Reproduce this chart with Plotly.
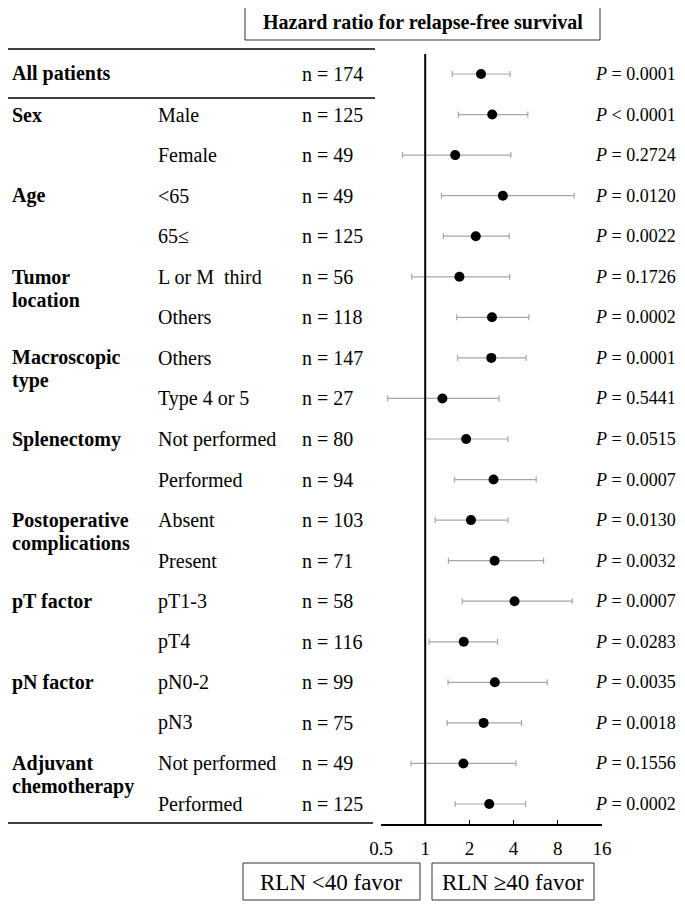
import plotly.graph_objects as go

# rows of the forest plot, top to bottom
group_names = ["All patients", "Sex", "Age", "Tumor\nlocation", "Macroscopic\ntype",
               "Splenectomy", "Postoperative\ncomplications", "pT factor", "pN factor",
               "Adjuvant\nchemotherapy"]
subgroups = [[""], ["Male", "Female"], ["<65", "65≤"], ["L or M  third", "Others"],
             ["Others", "Type 4 or 5"], ["Not performed", "Performed"],
             ["Absent", "Present"], ["pT1-3", "pT4"], ["pN0-2", "pN3"],
             ["Not performed", "Performed"]]
n_counts = [174, 125, 49, 49, 125, 56, 118, 147, 27, 80, 94, 103, 71, 58, 116, 99, 75, 49, 125]
hr = [2.40, 2.86, 1.60, 3.38, 2.21, 1.71, 2.85, 2.82, 1.31, 1.90, 2.92, 2.05, 2.97, 4.06,
      1.83, 2.98, 2.50, 1.82, 2.73]
ci_low = [1.53, 1.68, 0.70, 1.29, 1.33, 0.81, 1.64, 1.66, 0.555, 1.00, 1.58, 1.17, 1.44,
          1.79, 1.065, 1.43, 1.41, 0.80, 1.60]
ci_high = [3.79, 5.00, 3.83, 10.35, 3.73, 3.76, 5.08, 4.87, 3.18, 3.66, 5.70, 3.66, 6.40,
           10.03, 3.11, 6.78, 4.53, 4.15, 4.83]
p_sign = ["=", "<", "=", "=", "=", "=", "=", "=", "=", "=", "=", "=", "=", "=", "=", "=",
          "=", "=", "="]
p_vals = ["0.0001", "0.0001", "0.2724", "0.0120", "0.0022", "0.1726", "0.0002", "0.0001",
          "0.5441", "0.0515", "0.0007", "0.0130", "0.0032", "0.0007", "0.0283", "0.0035",
          "0.0018", "0.1556", "0.0002"]
tick_vals = [0.5, 1, 2, 4, 8, 16]
title_text = "Hazard ratio for relapse-free survival"
favor_left = "RLN <40 favor"
favor_right = "RLN ≥40 favor"

FONT = "Liberation Serif"
W, H = 685, 905
OFF = 8  # the page body margin moves the figure 8px right and down


def esc(s):
    return s.replace("&", "&amp;").replace("<", "&lt;").replace(">", "&gt;").replace("  ", "\u00a0\u00a0")


def px(x):
    return (x - OFF) / W


def py(y):
    return 1 - (y - OFF) / H


rows = list(range(len(hr)))

fig = go.Figure()
fig.add_trace(go.Scatter(
    x=hr, y=rows, mode="markers",
    marker=dict(color="black", size=10),
    error_x=dict(type="data", symmetric=False,
                 array=[h - m for h, m in zip(ci_high, hr)],
                 arrayminus=[m - l for m, l in zip(hr, ci_low)],
                 color="#a6a6a6", thickness=1.2, width=3),
    showlegend=False, hoverinfo="skip",
))

ann = []
r = 0
for g, subs in zip(group_names, subgroups):
    lines = g.split("\n")
    for k, line in enumerate(lines):
        ann.append(dict(x=px(10), y=r, xref="paper", yref="y", xanchor="left",
                        yanchor="middle", text="<b>" + esc(line) + "</b>", yshift=-23 * k,
                        showarrow=False, font=dict(family=FONT, size=20, color="black")))
    for s in subs:
        if s:
            ann.append(dict(x=px(156), y=r, xref="paper", yref="y", xanchor="left",
                            yanchor="middle", text=esc(s), showarrow=False,
                            font=dict(family=FONT, size=20, color="black")))
        ann.append(dict(x=px(300), y=r, xref="paper", yref="y", xanchor="left",
                        yanchor="middle", text="n = %d" % n_counts[r], showarrow=False,
                        font=dict(family=FONT, size=20, color="black")))
        ann.append(dict(x=px(593), y=r, xref="paper", yref="y", xanchor="left",
                        yanchor="middle",
                        text="<i>P</i> " + esc(p_sign[r]) + " " + p_vals[r],
                        showarrow=False, font=dict(family=FONT, size=18, color="black")))
        r += 1

ann.append(dict(x=px(423), y=py(22), xref="paper", yref="paper", xanchor="center",
                yanchor="middle", text="<b>" + title_text + "</b>",
                showarrow=False, font=dict(family=FONT, size=20, color="black")))
ann.append(dict(x=px(331), y=py(882), xref="paper", yref="paper", xanchor="center",
                yanchor="middle", text=esc(favor_left),
                showarrow=False, font=dict(family=FONT, size=23, color="black")))
ann.append(dict(x=px(513), y=py(882), xref="paper", yref="paper", xanchor="center",
                yanchor="middle", text=esc(favor_right),
                showarrow=False, font=dict(family=FONT, size=23, color="black")))

line_style = dict(color="black", width=1.3)
box_style = dict(color="#333333", width=1)
shapes = [
    dict(type="line", xref="paper", yref="paper", x0=px(3), x1=px(375), y0=py(49), y1=py(49), line=line_style),
    dict(type="line", xref="paper", yref="paper", x0=px(3), x1=px(375), y0=py(98), y1=py(98), line=line_style),
    dict(type="line", xref="paper", yref="paper", x0=px(3), x1=px(373), y0=py(823), y1=py(823), line=line_style),
    dict(type="line", xref="x", yref="paper", x0=1, x1=1, y0=py(54), y1=py(824),
         line=dict(color="black", width=2)),
    dict(type="rect", xref="paper", yref="paper", x0=px(245), x1=px(600), y0=py(4), y1=py(40), line=box_style),
    dict(type="rect", xref="paper", yref="paper", x0=px(243), x1=px(420), y0=py(863), y1=py(900), line=box_style),
    dict(type="rect", xref="paper", yref="paper", x0=px(432), x1=px(594), y0=py(863), y1=py(900), line=box_style),
]

n_rows = len(hr)
spacing = (804 - 74) / (n_rows - 1)
y_bottom = (n_rows - 1) + (824 - 804) / spacing
y_top = (52 - 74) / spacing

fig.update_layout(
    width=W, height=H,
    margin=dict(l=0, r=0, t=0, b=0, pad=0, autoexpand=False),
    paper_bgcolor="white", plot_bgcolor="white",
    xaxis=dict(type="log", domain=[px(381), px(602)],
               range=[-0.30103, 1.20412],
               tickvals=tick_vals, ticktext=[("%g" % v) for v in tick_vals],
               showline=True, linecolor="black", linewidth=1.5,
               ticks="inside", ticklen=4, tickcolor="black",
               showgrid=False, zeroline=False, automargin=False,
               tickfont=dict(family=FONT, size=19, color="black"),
               ticklabelstandoff=6),
    yaxis=dict(range=[y_bottom, y_top], domain=[py(824), py(52)], visible=False),
    annotations=ann, shapes=shapes,
)

fig.write_html("out.html")
